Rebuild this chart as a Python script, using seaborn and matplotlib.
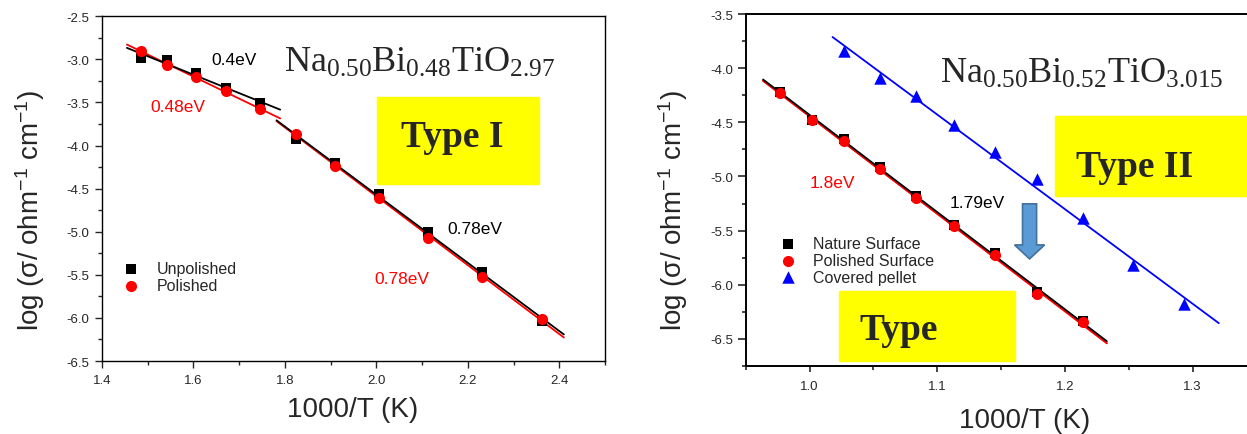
import numpy as np
import matplotlib
matplotlib.use("Agg")
import matplotlib.pyplot as plt
from matplotlib.patches import Rectangle, FancyArrow
from matplotlib.ticker import MultipleLocator
import seaborn as sns

# --- Type I : Na0.50Bi0.48TiO2.97 ---
inv_t_a = [1.485, 1.543, 1.605, 1.672, 1.745, 1.825, 1.910, 2.005, 2.113, 2.232, 2.363]
unpolished = [-2.98, -3.01, -3.16, -3.33, -3.51, -3.92, -4.20, -4.56, -5.00, -5.47, -6.04]
polished = [-2.90, -3.07, -3.20, -3.37, -3.58, -3.86, -4.24, -4.61, -5.07, -5.53, -6.01]
n_first = 5                       # points in the first (high T) region
fit_span_a = [(1.455, 1.790), (1.782, 2.410)]

# --- Type II : Na0.50Bi0.52TiO3.015 ---
inv_t_b = [0.977, 1.002, 1.027, 1.055, 1.083, 1.113, 1.145, 1.178, 1.214]
nature = [-4.22, -4.48, -4.65, -4.91, -5.18, -5.45, -5.71, -6.07, -6.34]
polished_b = [-4.23, -4.48, -4.67, -4.93, -5.20, -5.46, -5.73, -6.09, -6.35]
inv_t_cov = [1.027, 1.055, 1.083, 1.113, 1.145, 1.178, 1.214, 1.253, 1.293]
covered = [-3.84, -4.09, -4.26, -4.52, -4.77, -5.02, -5.38, -5.82, -6.18]
fit_span_b = (0.9636, 1.2328)
fit_span_cov = (1.018, 1.3205)

sns.set_style("ticks")
plt.rcParams["font.family"] = ["Liberation Sans", "DejaVu Sans"]
plt.rcParams["mathtext.default"] = "regular"
plt.rcParams["axes.unicode_minus"] = False


def fit_line(ax, x, y, span, color, lw=1.3, z=2):
    k, b = np.polyfit(x, y, 1)
    xs = np.array(span)
    sns.lineplot(x=xs, y=k * xs + b, color=color, lw=lw, ax=ax, zorder=z)


fig = plt.figure(figsize=(12.47, 4.35), dpi=100)
ax1 = fig.add_axes([0.0816, 0.1678, 0.4036, 0.7924])
ax2 = fig.add_axes([0.598, 0.157, 0.4096, 0.8078])

# ---------------- left panel ----------------
for x, y, c in [(inv_t_a, polished, "red"), (inv_t_a, unpolished, "black")]:
    fit_line(ax1, x[:n_first], y[:n_first], fit_span_a[0], c)
    fit_line(ax1, x[n_first:], y[n_first:], fit_span_a[1], c)

sns.scatterplot(x=inv_t_a, y=unpolished, marker="s", color="black", s=42,
                linewidth=0, label="Unpolished", ax=ax1, zorder=3)
sns.scatterplot(x=inv_t_a, y=polished, marker="o", color="red", s=64,
                linewidth=0, label="Polished", ax=ax1, zorder=4)

ax1.set_xlim(1.4, 2.5)
ax1.set_ylim(-6.5, -2.5)
ax1.xaxis.set_major_locator(MultipleLocator(0.2))
ax1.xaxis.set_minor_locator(MultipleLocator(0.1))
ax1.yaxis.set_major_locator(MultipleLocator(0.5))
ax1.yaxis.set_minor_locator(MultipleLocator(0.25))
ax1.tick_params(which="major", direction="out", length=5, width=1, labelsize=9.5, pad=4)
ax1.tick_params(which="minor", direction="out", length=3, width=1)
for s in ax1.spines.values():
    s.set_linewidth(1.0)
    s.set_color("black")

ax1.text(1.639, -3.0, "0.4eV", fontsize=12.5, color="black", va="center")
ax1.text(1.506, -3.552, "0.48eV", fontsize=12.5, color="red", va="center")
ax1.text(2.155, -4.968, "0.78eV", fontsize=12.5, color="black", va="center")
ax1.text(1.996, -5.548, "0.78eV", fontsize=12.5, color="red", va="center")

ax1.text(0.362, 0.841, r"Na$_{0.50}$Bi$_{0.48}$TiO$_{2.97}$", transform=ax1.transAxes,
         family="Liberation Serif", fontsize=26, va="baseline")
ax1.add_patch(Rectangle((0.546, 0.5135), 0.3227, 0.2515, transform=ax1.transAxes,
                        color="#ffff00", zorder=6))
ax1.text(0.696, 0.6246, "Type I", transform=ax1.transAxes, family="Liberation Serif",
         fontweight="bold", fontsize=27, ha="center", va="baseline", zorder=7)

ax1.legend(loc="upper left", bbox_to_anchor=(0.0328, 0.2887), frameon=False,
           fontsize=11.5, handlelength=1.6, handletextpad=0.8, labelspacing=0.1,
           borderpad=0, borderaxespad=0, scatterpoints=1)

ax1.set_xlabel("1000/T (K)", fontsize=20)
ax1.set_ylabel(r"log (σ/ ohm$^{-1}$ cm$^{-1}$)", fontsize=20)
ax1.xaxis.set_label_coords(0.499, -0.1007)
ax1.yaxis.set_label_coords(-0.108, 0.441)

# ---------------- right panel ----------------
fit_line(ax2, inv_t_b, polished_b, fit_span_b, "red", lw=1.6, z=2)
fit_line(ax2, inv_t_b, nature, fit_span_b, "black", lw=1.3, z=2.5)
fit_line(ax2, inv_t_cov, covered, fit_span_cov, "blue", lw=1.3, z=2)

sns.scatterplot(x=inv_t_b, y=nature, marker="s", color="black", s=42,
                linewidth=0, label="Nature Surface", ax=ax2, zorder=3)
sns.scatterplot(x=inv_t_b, y=polished_b, marker="o", color="red", s=64,
                linewidth=0, label="Polished Surface", ax=ax2, zorder=4)
sns.scatterplot(x=inv_t_cov, y=covered, marker="^", color="blue", s=80,
                linewidth=0, label="Covered pellet", ax=ax2, zorder=4)

ax2.set_xlim(0.95, 1.35)
ax2.set_ylim(-6.75, -3.5)
ax2.xaxis.set_major_locator(MultipleLocator(0.1))
ax2.xaxis.set_minor_locator(MultipleLocator(0.05))
ax2.yaxis.set_major_locator(MultipleLocator(0.5))
ax2.yaxis.set_minor_locator(MultipleLocator(0.25))
ax2.tick_params(axis="y", which="major", direction="out", length=6, width=1.2, labelsize=9.5, pad=3)
ax2.tick_params(axis="x", which="major", direction="out", length=4, width=1.2, labelsize=9.5, pad=6)
ax2.tick_params(which="minor", direction="out", length=3, width=1.2)
for s in ax2.spines.values():
    s.set_linewidth(1.4)
    s.set_color("black")
ax2.spines["right"].set_visible(False)

ax2.text(1.0, -5.053, "1.8eV", fontsize=12.5, color="red", va="center")
ax2.text(1.1095, -5.244, "1.79eV", fontsize=12.5, color="black", va="center")
ax2.add_patch(FancyArrow(1.1723, -5.253, 0, -0.509, width=0.011, head_width=0.0235,
                         head_length=0.129, length_includes_head=True,
                         fc="#5b9bd5", ec="#41719c", lw=1.2, zorder=5))

ax2.text(0.380, 0.8065, r"Na$_{0.50}$Bi$_{0.52}$TiO$_{3.015}$", transform=ax2.transAxes,
         family="Liberation Serif", fontsize=26, va="baseline")
ax2.add_patch(Rectangle((0.606, 0.482), 0.394, 0.2277, transform=ax2.transAxes,
                        color="#ffff00", zorder=6))
ax2.text(0.6466, 0.5407, "Type II", transform=ax2.transAxes, family="Liberation Serif",
         fontweight="bold", fontsize=27, va="baseline", zorder=7)
ax2.add_patch(Rectangle((0.183, 0.0142), 0.3446, 0.198, transform=ax2.transAxes,
                        color="#ffff00", zorder=6))
ax2.text(0.2218, 0.076, "Type", transform=ax2.transAxes, family="Liberation Serif",
         fontweight="bold", fontsize=27, va="baseline", zorder=7)

leg = ax2.legend(loc="upper left", bbox_to_anchor=(0.0578, 0.3677), frameon=False,
                 fontsize=11.5, handlelength=1.6, handletextpad=0.78, labelspacing=0.1,
                 borderpad=0, borderaxespad=0, scatterpoints=1)
leg.set_zorder(5)

ax2.set_xlabel("1000/T (K)", fontsize=20)
ax2.set_ylabel(r"log (σ/ ohm$^{-1}$ cm$^{-1}$)", fontsize=20)
ax2.xaxis.set_label_coords(0.5456, -0.1175)
ax2.yaxis.set_label_coords(-0.109, 0.444)

fig.savefig("out.png", dpi=100)
